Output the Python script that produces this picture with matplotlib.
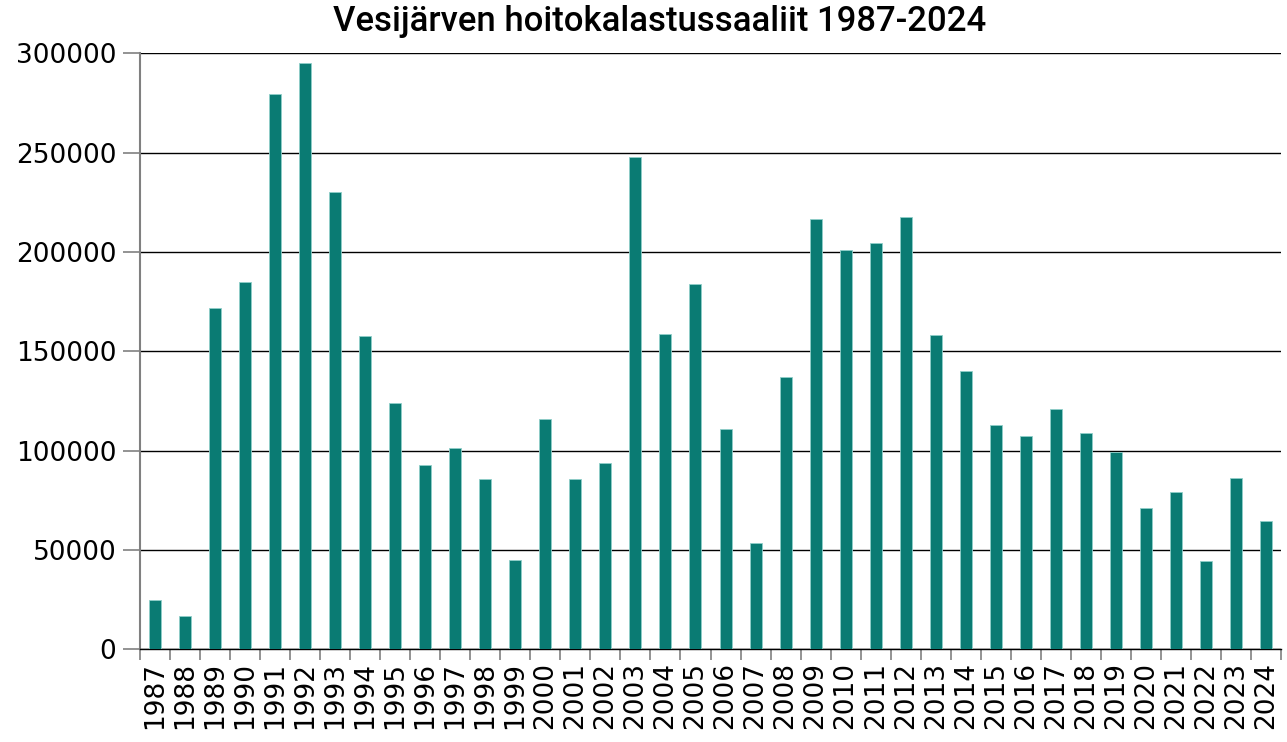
import matplotlib
matplotlib.use("Agg")
import matplotlib.pyplot as plt
import numpy as np

years = [str(y) for y in range(1987, 2025)]
catch = [25000, 16600, 172000, 185000, 279500, 295000, 230000, 157700, 123800, 92600,
         101500, 85600, 45000, 115800, 85900, 93800, 247800, 158900, 184000, 111000,
         53500, 137200, 216600, 201100, 204700, 217800, 158400, 139900, 112700, 107500,
         120800, 108700, 99200, 71300, 79300, 44600, 86100, 64700]
title = "Vesijärven hoitokalastussaaliit 1987-2024"
yticks = [0, 50000, 100000, 150000, 200000, 250000, 300000]

W, H = 1287, 742
fig = plt.figure(figsize=(W / 100, H / 100), dpi=100)
ax = fig.add_axes([140 / W, 1 - 649.3 / H, (1281 - 140) / W, (649.3 - 53.3) / H])

x = np.arange(len(years))
ax.bar(x, catch, width=0.4, color="#0a7b73", edgecolor="#8fcfc9", linewidth=0.6, zorder=3)

ax.set_xlim(-0.5, len(years) - 0.5)
ax.set_ylim(0, 300000)
ax.set_yticks(yticks)
ax.set_yticklabels([str(v) for v in yticks], fontsize=19, family="DejaVu Sans")
ax.yaxis.grid(True, color="#000000", linewidth=1.0, zorder=0)
ax.set_axisbelow(True)

ax.set_xticks(x)
ax.set_xticklabels(years, rotation=90, fontsize=19, family="DejaVu Sans")
ax.tick_params(axis="x", which="major", length=0, pad=9)
ax.set_xticks(np.arange(-0.5, len(years), 1.0), minor=True)
ax.tick_params(axis="x", which="minor", length=8, color="#808080", width=1.2)
ax.tick_params(axis="y", length=12, color="#808080", width=1.2, pad=5)

for s in ["top", "right"]:
    ax.spines[s].set_visible(False)
ax.spines["left"].set_color("#808080")
ax.spines["left"].set_linewidth(1.5)
ax.spines["bottom"].set_color("#000000")
ax.spines["bottom"].set_linewidth(1.0)

fig.text(0.5125, 1 - 22 / H, title, ha="center", va="center", fontsize=25,
         fontweight="medium",
         family=["Liberation Sans Narrow", "Roboto", "DejaVu Sans"], stretch="condensed")

fig.savefig("out.png", dpi=100)
